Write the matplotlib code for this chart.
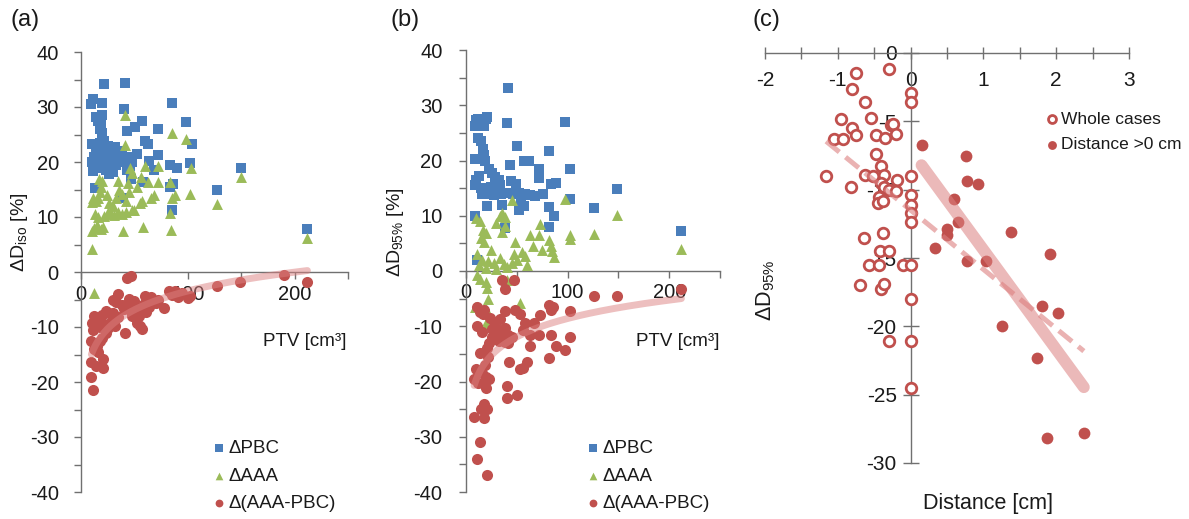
import numpy as np
import matplotlib
matplotlib.use('Agg')
import matplotlib.pyplot as plt
from matplotlib.ticker import MultipleLocator, FixedLocator

plt.rcParams['font.family'] = ['Liberation Sans', 'DejaVu Sans']
plt.rcParams['axes.unicode_minus'] = False

# ---------------- data: panel (a) ----------------
a_pbc_x = [22, 41, 11, 9, 20, 85, 40, 57, 51, 43, 72, 98, 60, 63, 104, 72, 52, 64, 83, 90, 102, 68.5, 47, 58, 86, 83, 13, 39, 85, 127, 150, 212,
           14, 20, 16, 19, 18, 20, 10, 14, 18, 22, 25, 28, 32, 35, 12, 15, 10, 20, 24, 27, 30, 33, 36, 40, 44, 48, 20, 23, 26, 30, 11, 38, 46, 43, 17, 29]
a_pbc_y = [34.1, 34.4, 31.5, 30.6, 30.8, 30.8, 29.6, 27.4, 26.3, 25.6, 26.0, 27.2, 23.9, 23.3, 23.2, 21.3, 21.5, 20.2, 19.5, 18.9, 19.9, 18.6, 17.0, 16.3, 16.0, 15.4, 15.3, 13.5, 11.3, 15.0, 19.0, 7.8,
           28.2, 28.5, 27.5, 27.0, 26.0, 25.2, 23.2, 22.5, 23.5, 23.8, 23.0, 22.5, 22.8, 22.0, 21.0, 20.0, 20.0, 21.5, 20.5, 19.8, 20.3, 19.5, 20.8, 20.0, 21.0, 20.0, 19.0, 18.5, 17.8, 18.2, 18.3, 21.5, 19.2, 18.6, 22.0, 21.0]

a_aaa_x = [41, 41, 85, 98, 103, 72, 60, 46, 48, 56, 63, 72, 83, 102, 85, 88, 66, 68, 55, 57, 48, 50, 42, 28, 31, 35, 38, 83, 58, 39, 84, 10, 10, 12, 15, 19, 21,
           18, 19, 20, 17, 11, 14, 16, 10, 13, 16, 22, 25, 30, 33, 36, 38, 42, 45, 26, 24, 127, 150, 212, 12.5, 44, 52, 35]
a_aaa_y = [28.5, 23.1, 25.2, 24.1, 19.0, 19.3, 19.3, 19.0, 18.0, 17.3, 16.3, 16.3, 16.3, 14.2, 13.5, 14.0, 13.5, 14.0, 12.5, 13.0, 11.2, 11.2, 11.0, 10.5, 10.3, 11.0, 10.5, 10.8, 8.2, 7.4, 7.6, 4.2, 7.5, 8.0, 8.5, 7.8, 8.2,
           14.5, 15.5, 16.5, 17.0, 13.5, 13.0, 13.5, 12.8, 10.5, 10.0, 10.2, 11.0, 12.0, 13.5, 15.0, 14.2, 13.0, 14.5, 12.5, 14.0, 12.3, 17.2, 6.1, -3.8, 16.2, 15.5, 16.5]

a_diff_x = [43, 47, 35, 30, 33, 38, 42, 60, 66, 72, 59, 64, 56, 61, 82, 88, 85, 91, 100, 95, 53, 54, 52, 57, 55, 43, 47, 48, 40, 41,
            23, 20, 17, 14, 12, 10, 11, 28, 25, 23, 20, 18, 15, 14, 9.7, 12, 16, 20.6, 9.7, 14, 21, 9.7, 11,
            127, 149, 212, 190, 102, 30, 35, 26, 18, 22, 32, 45, 50, 70, 78]
a_diff_y = [-1.0, -0.8, -4.0, -5.0, -5.5, -6.0, -6.3, -4.4, -4.6, -5.0, -5.8, -6.3, -7.0, -7.2, -3.5, -3.4, -4.2, -4.6, -4.8, -3.8, -6.6, -8.0, -9.3, -10.4, -9.9, -6.0, -7.0, -8.0, -6.8, -11.0,
            -7.0, -7.8, -8.5, -9.3, -8.0, -9.3, -10.5, -9.0, -10.2, -11.0, -12.0, -12.6, -13.5, -14.2, -12.6, -14.0, -14.5, -15.9, -16.4, -17.0, -17.4, -19.0, -21.4,
            -2.6, -1.8, -1.8, -0.5, -4.3, -7.5, -8.2, -7.5, -10.0, -9.5, -9.8, -4.9, -5.2, -5.6, -6.5]
# logarithmic trendline of Δ(AAA-PBC): y = k*ln(x) + c (as shown in the chart)
a_trend = [4.94, -26.2]

# ---------------- data: panel (b) ----------------
b_pbc_x = [41, 9, 10, 12, 20, 21, 18, 40, 97, 12, 15, 17, 18, 19, 9, 50, 82, 57, 62, 43, 23, 26, 29, 32, 33, 71.6, 71.6, 102, 84, 89,
           10, 13, 9, 15, 19, 16, 22, 28, 34, 40, 46, 52, 58, 63, 68, 49, 20.6, 35, 52, 54, 57, 82, 87, 102, 9, 38, 82, 11, 126, 149, 212, 44, 76, 25]
b_pbc_y = [33.1, 26.2, 27.3, 27.6, 27.5, 27.8, 26.3, 26.8, 27.0, 24.0, 23.5, 22.0, 21.0, 20.0, 20.2, 22.6, 21.7, 20.0, 20.0, 19.1, 18.5, 17.8, 17.0, 16.5, 15.5, 18.4, 16.9, 18.5, 15.7, 16.0,
           16.5, 17.2, 15.5, 15.0, 14.5, 14.0, 14.0, 13.8, 14.0, 14.2, 14.0, 14.2, 14.0, 13.8, 13.5, 15.8, 11.7, 12.0, 11.0, 12.3, 11.8, 11.6, 10.0, 13.0, 9.9, 7.8, 8.0, 2.0, 11.4, 14.9, 7.3, 16.2, 14.0, 15.2]

b_aaa_x = [45, 97, 33, 35, 38, 10, 14, 72.6, 17, 20, 15, 18, 30, 38, 35, 63, 72, 82, 84, 85, 87, 102, 102, 11, 16, 22, 28, 33, 37, 47, 50, 55, 58, 60, 45, 40, 48, 25, 13, 20,
           11, 14, 20, 21, 22, 40, 53, 9, 20, 20, 126, 149, 212, 66, 30, 75]
b_aaa_y = [12.8, 13.0, 10.0, 10.5, 9.8, 9.6, 9.0, 8.5, 7.5, 6.8, 6.0, 5.3, 8.7, 8.2, 7.0, 6.5, 6.5, 5.7, 4.5, 3.6, 2.6, 5.8, 6.5, 3.0, 2.0, 1.8, 1.5, 2.3, 1.2, 3.0, 2.0, 3.5, 2.8, 1.0, 1.5, 0.8, 5.2, 3.8, 1.0, 0.5,
           -0.7, -1.5, -2.0, -3.0, -5.0, -1.6, -5.8, -6.5, -9.5, -6.8, 6.7, 10.2, 4.0, 4.5, 0.3, 3.8]

b_diff_x = [35, 47, 38, 82, 84, 86, 102, 11, 14, 17, 18, 38, 48, 53, 33, 72.5, 58, 67, 56, 11, 16, 26, 26, 29, 32, 31, 36, 38, 41, 35, 38, 41, 45, 63, 72, 63, 84, 89, 97, 102, 82, 42,
            14, 21, 23, 22, 19, 53, 56, 60, 10, 8, 16, 20, 23, 18, 20, 40, 40, 50, 18, 15, 21, 8, 18, 14, 11, 20.6, 126, 149, 212, 24, 28, 12]
b_diff_y = [-1.7, -1.7, -3.3, -6.2, -7.0, -6.5, -7.2, -6.5, -7.5, -7.7, -7.0, -7.3, -7.1, -7.7, -8.6, -8.0, -9.5, -9.5, -10.7, -10.0, -11.0, -10.5, -12.0, -12.3, -12.7, -10.5, -11.2, -10.3, -11.5, -12.3, -12.8, -13.0, -11.9, -11.6, -11.6, -13.5, -11.6, -13.5, -14.3, -12.0, -15.8, -16.5,
            -14.8, -14.0, -13.0, -15.6, -17.0, -17.8, -17.5, -16.5, -17.8, -19.6, -18.5, -19.2, -19.6, -20.5, -21.2, -20.8, -23.0, -22.5, -24.0, -25.0, -25.0, -26.5, -26.6, -31.0, -34.0, -37.0, -4.5, -4.5, -3.3, -8.5, -9.3, -20.2]
b_trend = [4.8, -30.7]

# ---------------- data: panel (c) ----------------
c_whole_x = [-0.75, -0.30, -0.8, 0, 0, -0.63, -0.95, -0.54, -0.8, -0.75, -0.47, -0.35, -0.27, -0.24, -0.2, -1.05, -0.93, -0.47, -0.4, -1.16, -0.62, -0.52, -0.37, -0.4, -0.19,
             -0.82, -0.37, -0.3, -0.2, 0, 0, -0.43, -0.45, -0.38, 0, 0, 0, -0.64, -0.38, -0.42, -0.29, -0.57, -0.43, -0.11, 0, -0.7, -0.4, -0.36, 0, -0.29, 0, 0]
c_whole_y = [-1.44, -1.19, -2.6, -2.9, -3.55, -3.6, -4.8, -4.75, -5.5, -6.0, -6.0, -6.2, -5.3, -5.2, -5.9, -6.3, -6.3, -7.4, -8.3, -9.0, -8.9, -9.0, -8.9, -9.5, -9.3,
             -9.8, -9.8, -10.0, -10.1, -9.0, -10.4, -10.5, -11.0, -10.8, -11.1, -11.7, -12.4, -13.5, -13.2, -14.5, -14.5, -15.5, -15.5, -15.5, -15.5, -17.0, -17.3, -16.9, -18.0, -21.1, -21.1, -24.5]
c_pos_x = [0.15, 0.76, 0.78, 0.93, 0.6, 0.65, 0.5, 0.5, 1.38, 0.33, 0.78, 1.03, 1.91, 1.8, 2.02, 1.25, 1.73, 1.88, 2.38]
c_pos_y = [-6.7, -7.5, -9.4, -9.6, -10.7, -12.4, -12.9, -13.3, -13.1, -14.3, -15.2, -15.2, -14.7, -18.5, -19.0, -20.0, -22.3, -28.2, -27.8]

# ---------------- style ----------------
BLUE = '#4a7ebb'
GREEN = '#9bbb59'
RED = '#c0504d'
TREND = '#dc8080'
AXC = '#707070'
TXT = '#1a1a1a'

fig = plt.figure(figsize=(11.89, 5.19), dpi=100)


def log_trend(ax, x, coef):
    x = np.asarray(x, float)
    xs = np.linspace(x.min(), x.max(), 200)
    ax.plot(xs, coef[0] * np.log(xs) + coef[1], color=TREND, lw=5, alpha=0.5,
            solid_capstyle='round', zorder=4)


def panel_ab(rect, pbc, aaa, diff, coef, ylabel, ylab_xy, ptv_xy, leg_xy, ypad):
    ax = fig.add_axes(rect)
    ax.scatter(*pbc, marker='s', s=52, color=BLUE, linewidths=0, zorder=3, label='ΔPBC', clip_on=False)
    ax.scatter(*aaa, marker='^', s=62, color=GREEN, linewidths=0, zorder=3, label='ΔAAA', clip_on=False)
    ax.scatter(*diff, marker='o', s=64, color=RED, linewidths=0, zorder=3, label='Δ(AAA-PBC)', clip_on=False)
    log_trend(ax, diff[0], coef)
    ax.set_xlim(0, 250)
    ax.set_ylim(-40, 40)
    for s in ('top', 'right'):
        ax.spines[s].set_visible(False)
    ax.spines['bottom'].set_position(('data', 0))
    for s in ('left', 'bottom'):
        ax.spines[s].set_color(AXC)
        ax.spines[s].set_linewidth(1.0)
    ax.xaxis.set_major_locator(FixedLocator([0, 100, 200]))
    ax.xaxis.set_minor_locator(FixedLocator([50, 150, 250]))
    ax.yaxis.set_major_locator(MultipleLocator(10))
    ax.yaxis.set_minor_locator(MultipleLocator(5))
    ax.tick_params(axis='both', which='both', direction='out', length=5, width=1.0,
                   color=AXC, labelcolor=TXT, labelsize=14.5)
    ax.tick_params(axis='y', which='major', pad=ypad)
    ax.tick_params(axis='x', which='major', pad=4)
    ax.patch.set_alpha(0)
    fig.text(ylab_xy[0] / 1189, 1 - ylab_xy[1] / 519, ylabel, rotation=90, fontsize=14,
             color=TXT, ha='center', va='center')
    fig.text(ptv_xy[0] / 1189, 1 - ptv_xy[1] / 519, 'PTV [cm³]', fontsize=13.5,
             color=TXT, ha='left', va='center')
    ax.legend(loc='center left', bbox_to_anchor=(leg_xy[0] / 1189, 1 - leg_xy[1] / 519),
              bbox_transform=fig.transFigure, frameon=False, fontsize=13.5,
              handletextpad=0.2, handlelength=0.7, labelspacing=0.55,
              borderpad=0, borderaxespad=0, markerscale=0.7, labelcolor=TXT)
    return ax


ax_a = panel_ab([81 / 1189, 1 - 492 / 519, 267 / 1189, 440 / 519],
                (a_pbc_x, a_pbc_y), (a_aaa_x, a_aaa_y), (a_diff_x, a_diff_y), a_trend,
                'ΔD$_{\\mathregular{iso}}$ [%]', (19, 232), (263, 342), (212, 476), 11)
ax_b = panel_ab([466 / 1189, 1 - 492 / 519, 254 / 1189, 442 / 519],
                (b_pbc_x, b_pbc_y), (b_aaa_x, b_aaa_y), (b_diff_x, b_diff_y), b_trend,
                'ΔD$_{\\mathregular{95\\%}}$ [%]', (396, 232), (636, 342), (586, 476), 12)

fig.text(10 / 1189, 1 - 20 / 519, '(a)', fontsize=17, color=TXT, ha='left', va='center')
fig.text(390 / 1189, 1 - 20 / 519, '(b)', fontsize=17, color=TXT, ha='left', va='center')
fig.text(752 / 1189, 1 - 20 / 519, '(c)', fontsize=17, color=TXT, ha='left', va='center')

# ---------------- panel (c) ----------------
ax_c = fig.add_axes([765 / 1189, 1 - 463 / 519, 364 / 1189, 410 / 519])
ax_c.scatter(c_whole_x, c_whole_y, marker='o', s=58, facecolors='white', edgecolors=RED,
             linewidths=2.0, zorder=3, label='Whole cases', clip_on=False)
ax_c.scatter(c_pos_x, c_pos_y, marker='o', s=72, color=RED, linewidths=0, zorder=3,
             label='Distance >0 cm', clip_on=False)

all_x = np.asarray(c_whole_x + c_pos_x, float)
all_y = np.asarray(c_whole_y + c_pos_y, float)
k1, b1 = np.polyfit(all_x, all_y, 1)
xs1 = np.linspace(all_x.min(), all_x.max(), 50)
ax_c.plot(xs1, k1 * xs1 + b1, color=TREND, lw=3.6, alpha=0.6, dashes=(3.4, 1.6), zorder=4)
px = np.asarray(c_pos_x, float)
py = np.asarray(c_pos_y, float)
k2, b2 = np.polyfit(px, py, 1)
xs2 = np.linspace(px.min(), px.max(), 50)
ax_c.plot(xs2, k2 * xs2 + b2, color=TREND, lw=8.5, alpha=0.55, solid_capstyle='round', zorder=4)

ax_c.set_xlim(-2, 3)
ax_c.set_ylim(-30, 0)
for s in ('top', 'right'):
    ax_c.spines[s].set_visible(False)
ax_c.spines['left'].set_position(('data', 0))
ax_c.spines['bottom'].set_position(('data', 0))
for s in ('left', 'bottom'):
    ax_c.spines[s].set_color(AXC)
    ax_c.spines[s].set_linewidth(1.0)
ax_c.xaxis.set_major_locator(MultipleLocator(1))
ax_c.xaxis.set_minor_locator(MultipleLocator(0.5))
ax_c.yaxis.set_major_locator(MultipleLocator(5))
ax_c.tick_params(axis='x', which='both', direction='inout', length=8, width=1.0, color=AXC,
                 labelcolor=TXT, labelsize=15, pad=9)
ax_c.tick_params(axis='y', which='major', direction='inout', length=12, width=1.0, color=AXC,
                 labelcolor=TXT, labelsize=15, pad=4)
ax_c.patch.set_alpha(0)

fig.text(988 / 1189, 1 - 503 / 519, 'Distance [cm]', fontsize=15.5, color=TXT, ha='center', va='center')
fig.text(766 / 1189, 1 - 290 / 519, 'ΔD$_{\\mathregular{95\\%}}$', rotation=90, fontsize=15.5,
         color=TXT, ha='center', va='center')
ax_c.legend(loc='center left', bbox_to_anchor=(1045 / 1189, 1 - 132 / 519),
            bbox_transform=fig.transFigure, frameon=False, fontsize=12.5,
            handletextpad=0.1, handlelength=0.8, labelspacing=0.6,
            borderpad=0, borderaxespad=0, markerscale=0.75, labelcolor=TXT)

fig.savefig('out.png', dpi=100)
